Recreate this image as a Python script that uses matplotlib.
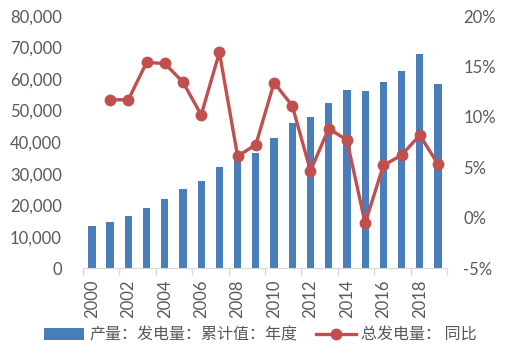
import matplotlib
matplotlib.use("Agg")
import matplotlib.pyplot as plt
from matplotlib.ticker import FuncFormatter, FixedLocator

# ── Data ──────────────────────────────────────────────────────────────────────

years = list(range(2000, 2020))
output = [13300, 14800, 16700, 19100, 22100, 25000, 27600, 32100, 34900, 36500,
          41300, 46000, 48000, 52400, 56500, 56200, 59000, 62500, 67900, 58400]
# yoy growth starts in 2001 (%)
yoy_years = list(range(2001, 2020))
yoy = [11.7, 11.7, 15.4, 15.3, 13.45, 10.2, 16.4, 6.1, 7.25, 13.4,
       11.1, 4.65, 8.85, 7.7, -0.55, 5.2, 6.2, 8.2, 5.3]

bar_label = "产量：发电量：累计值：年度"
line_label = "总发电量： 同比"

BLUE = "#4A7EBB"
RED = "#C0504D"
GREY = "#595959"

plt.rcParams["font.family"] = ["Lato", "Noto Sans CJK SC", "DejaVu Sans"]

fig = plt.figure(figsize=(5.11, 3.58), dpi=100)
ax = fig.add_axes([0.162, 0.251, 0.713, 0.704])
ax2 = ax.twinx()

x = list(range(len(years)))
xi = [years.index(y) for y in yoy_years]

bars = ax.bar(x, output, width=0.4, color=BLUE, zorder=2)
line, = ax2.plot(xi, yoy, color=RED, lw=2.4, marker="o", ms=7.5, zorder=3)

# left axis
ax.set_ylim(0, 80000)
ax.set_yticks(range(0, 80001, 10000))
ax.yaxis.set_major_formatter(FuncFormatter(lambda v, p: f"{int(v):,}"))
ax.set_xlim(-0.5, len(years) - 0.5)

# right axis
ax2.set_ylim(-5, 20)
ax2.set_yticks(range(-5, 21, 5))
ax2.yaxis.set_major_formatter(FuncFormatter(lambda v, p: f"{int(v)}%"))

# x ticks: labels every other year, tick marks on category boundaries
ax.set_xticks(x[::2])
ax.set_xticklabels([str(y) for y in years[::2]], rotation=90)
ax.tick_params(axis="x", which="major", length=0, pad=8)
ax.xaxis.set_minor_locator(FixedLocator([i - 0.5 for i in range(0, len(years) + 1, 2)]))
ax.tick_params(axis="x", which="minor", length=5, color="#D9D9D9", width=1)

for a in (ax, ax2):
    for s in ("top", "left", "right"):
        a.spines[s].set_visible(False)
    a.tick_params(axis="y", length=0, labelsize=12, colors=GREY)
ax.spines["bottom"].set_color("#D9D9D9")
ax2.spines["bottom"].set_visible(False)
ax.tick_params(axis="x", labelsize=12, colors=GREY)
ax.tick_params(axis="y", pad=15)
ax2.tick_params(axis="y", pad=11.5)

leg = fig.legend([bars, line], [bar_label, line_label], loc="center",
                 bbox_to_anchor=(0.51, 0.064), ncol=2, frameon=False,
                 handlelength=2.5, handletextpad=0.3, columnspacing=1.2,
                 prop={"family": ["Noto Sans CJK SC", "DejaVu Sans"], "size": 11.5})
for t in leg.get_texts():
    t.set_color(GREY)

fig.savefig("out.png", dpi=100)
